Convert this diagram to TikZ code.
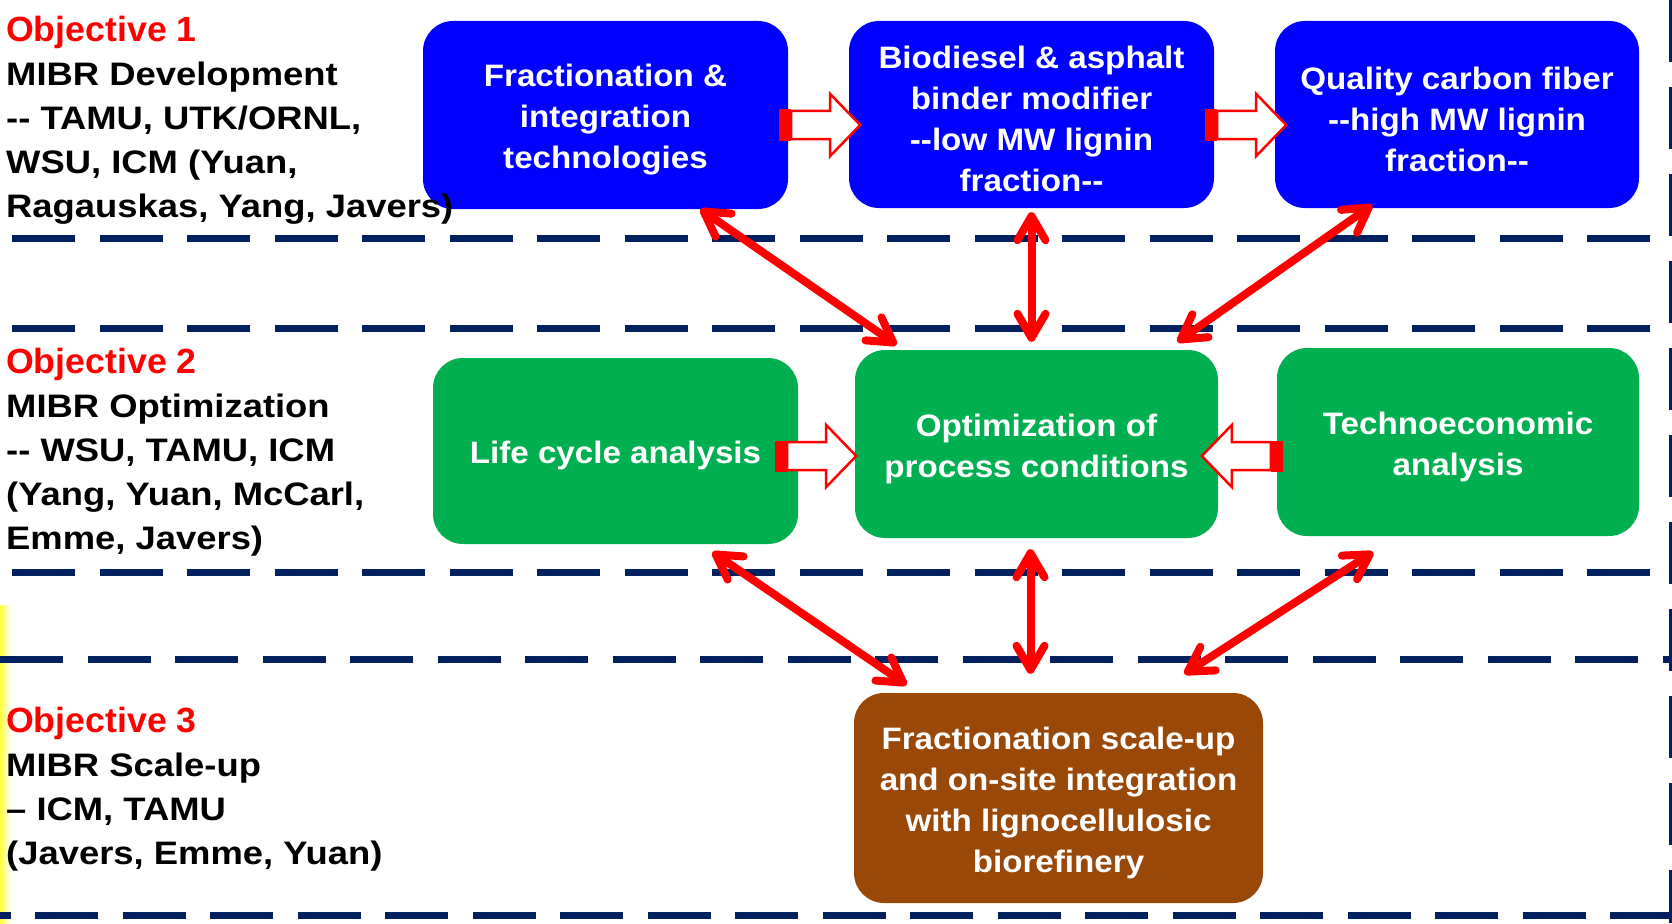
\documentclass[tikz,border=0pt]{standalone}
\usepackage{fontspec}
\setmainfont{Liberation Sans}
\newfontfamily\boxfont[FakeStretch=1.07]{Liberation Sans}
\newfontfamily\sidefont[FakeStretch=1.12]{Liberation Sans}
\newfontfamily\objfont[FakeStretch=1.02]{Liberation Sans}
\usetikzlibrary{arrows.meta,calc}
\definecolor{myblue}{RGB}{0,0,255}
\definecolor{mygreen}{RGB}{0,176,80}
\definecolor{mybrown}{RGB}{153,72,8}
\definecolor{myred}{RGB}{255,0,0}
\definecolor{mynavy}{RGB}{0,32,96}
\newcommand{\objlabel}[1]{{\objfont\bfseries\fontsize{35}{44}\selectfont\textcolor{myred}{#1}}}
\newcommand{\topstrut}{\rule{0pt}{32pt}}
\tikzset{
  box/.style={rounded corners=30pt, text=white, align=center, inner sep=0pt,
    font={\boxfont\bfseries\fontsize{31}{41}\selectfont}},
  sidetext/.style={anchor=north west, align=left, inner sep=0pt,
    font={\sidefont\bfseries\fontsize{32.5}{44}\selectfont}},
  sep/.style={mynavy, line width=7pt, dash pattern=on 63pt off 24.5pt},
  link/.style={myred, line width=8pt, line cap=round,
    {Straight Barb[length=24pt,width=28pt,round]}-{Straight Barb[length=24pt,width=28pt,round]}},
  blockarrow/.pic={
    \fill[myred] (0,-15.5) rectangle (12,15.5);
    \draw[myred, line width=2.5pt, fill=white, line join=miter]
      (12,-14) -- (51,-14) -- (51,-31) -- (81,0) -- (51,31) -- (51,14) -- (12,14) -- cycle;
  }
}
\begin{document}
\begin{tikzpicture}[x=1pt,y=-1pt]
\useasboundingbox (0,0) rectangle (1672,923);
\fill[white] (0,0) rectangle (1672,923);
\shade[left color=yellow!75!white, right color=white] (0,605) rectangle (11,923);

% separators
\draw[sep, dash phase=75.5pt] (0,238.5) -- (1672,238.5);
\draw[sep, dash phase=75.5pt] (0,328.5) -- (1672,328.5);
\draw[sep, dash phase=75.5pt] (0,572) -- (1672,572);
\draw[sep, dash phase=0pt] (0,659.5) -- (1672,659.5);
\draw[sep, dash phase=52.5pt] (0,915) -- (1672,915);
\draw[mynavy, line width=3pt, dash pattern=on 62pt off 25pt] (1670.5,0) -- (1670.5,923);

% boxes
\node[box, fill=myblue, minimum width=365pt, minimum height=188pt] (b1) at (605.5,115)
  {\topstrut Fractionation \&\\integration\\technologies};
\node[box, fill=myblue, minimum width=365pt, minimum height=187pt] (b2) at (1031.5,114.5)
  {\topstrut Biodiesel \& asphalt\\binder modifier\\-{}-low MW lignin\\fraction-{}-};
\node[box, fill=myblue, minimum width=364pt, minimum height=187pt] (b3) at (1457,114.5)
  {\topstrut Quality carbon fiber\\-{}-high MW lignin\\fraction-{}-};
\node[box, fill=mygreen, minimum width=365pt, minimum height=186pt] (lca) at (615.5,451)
  {\topstrut Life cycle analysis};
\node[box, fill=mygreen, minimum width=363pt, minimum height=188pt] (opt) at (1036.5,444)
  {\topstrut Optimization of\\process conditions};
\node[box, fill=mygreen, minimum width=362pt, minimum height=188pt] (tea) at (1458,442)
  {\topstrut Technoeconomic\\analysis};
\node[box, fill=mybrown, minimum width=409pt, minimum height=210pt] (brown) at (1058.5,798)
  {\topstrut Fractionation scale-up\\and on-site integration\\with lignocellulosic\\biorefinery};

% block arrows
\pic at ($(b1.east)+(-9,10)$) {blockarrow};
\pic at ($(b2.east)+(-9,10.5)$) {blockarrow};
\pic at ($(lca.east)+(-23,5)$) {blockarrow};
\pic[xscale=-1] at ($(tea.west)+(6,14)$) {blockarrow};

% double arrows
\draw[link] ($(b1.south)+(95,0)$) -- ($(opt.north)+(-140,-5)$);
\draw[link] ($(b2.south)+(0,4)$) -- ($(opt.north)+(-5,-8)$);
\draw[link] ($(b3.south)+(-85,-3)$) -- ($(opt.north)+(141,-8)$);
\draw[link] ($(lca.south)+(97,8)$) -- ($(brown.north)+(-152,-8)$);
\draw[link] ($(opt.south)+(-6,11)$) -- ($(brown.north)+(-28,-19)$);
\draw[link] ($(tea.south)+(-85,16)$) -- ($(brown.north)+(126,-19)$);

% side texts
\node[sidetext] (o1) at (6,16)
  {\objlabel{Objective 1}\\MIBR Development\\-{}- TAMU, UTK/ORNL,\\WSU, ICM (Yuan,\\Ragauskas, Yang, Javers)};
\node[sidetext] (o2) at (6,348)
  {\objlabel{Objective 2}\\MIBR Optimization\\-{}- WSU, TAMU, ICM\\(Yang, Yuan, McCarl,\\Emme, Javers)};
\node[sidetext] (o3) at (6,707)
  {\objlabel{Objective 3}\\MIBR Scale-up\\\textendash{} ICM, TAMU\\(Javers, Emme, Yuan)};
\end{tikzpicture}
\end{document}
